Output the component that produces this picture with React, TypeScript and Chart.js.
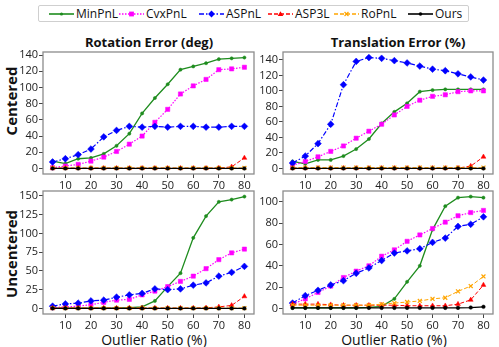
import React, { useEffect, useRef } from "react";
import { Chart, registerables } from "chart.js";

Chart.register(...registerables);

// ---------------- data ----------------
const outlierRatios = [5, 10, 15, 20, 25, 30, 35, 40, 45, 50, 55, 60, 65, 70, 75, 80];
const xTickValues = [10, 20, 30, 40, 50, 60, 70, 80];

const methodNames = ["MinPnL", "CvxPnL", "ASPnL", "ASP3L", "RoPnL", "Ours"];

// Rotation error (deg), centered
const rotC_MinPnL = [9, 6, 12, 13, 18, 28, 43, 68, 87, 104, 122, 126, 130, 135, 136, 137];
const rotC_CvxPnL = [1, 3, 5, 9, 14, 21, 30, 40, 57, 73, 92, 102, 110, 122, 123, 125];
const rotC_ASPnL = [8, 12, 17, 24, 39, 47, 52, 51, 52, 51, 52, 52, 51, 51, 52, 52];
const rotC_ASP3L = [0.3, 0.3, 0.3, 0.3, 0.3, 0.3, 0.3, 0.3, 0.3, 0.3, 0.3, 0.3, 0.3, 0.5, 2, 13];
const rotC_RoPnL = [0.6, 0.6, 0.6, 0.6, 0.6, 0.6, 0.6, 0.6, 0.6, 0.6, 0.6, 0.6, 0.6, 0.6, 0.6, 0.6];
const rotC_Ours = [0, 0, 0, 0, 0, 0, 0, 0, 0, 0, 0, 0, 0, 0, 0, 0];

// Translation error (%), centered
const trC_MinPnL = [9, 6, 11, 11, 16, 25, 38, 58, 73, 84, 99, 101, 102, 102, 102, 102];
const trC_CvxPnL = [4, 9, 15, 22, 29, 39, 48, 57, 69, 80, 88, 93, 95, 99, 100, 100];
const trC_ASPnL = [7, 16, 32, 57, 108, 138, 143, 142, 139, 136, 132, 128, 126, 122, 118, 114];
const trC_ASP3L = [0.3, 0.3, 0.3, 0.3, 0.3, 0.3, 0.3, 0.3, 0.3, 0.3, 0.3, 0.3, 0.3, 0.5, 3, 15];
const trC_RoPnL = [1, 1, 1, 1, 1, 1, 1, 1, 1, 1, 1, 1, 1, 1, 1, 1];
const trC_Ours = [0, 0, 0, 0, 0, 0, 0, 0, 0, 0, 0, 0, 0, 0, 0, 0];

// Rotation error (deg), uncentered
const rotU_MinPnL = [0.5, 0.5, 0.5, 0.5, 0.5, 0.5, 1, 2, 10, 29, 47, 94, 123, 142, 145, 149];
const rotU_CvxPnL = [1, 2, 3, 5, 8, 11, 12, 18, 23, 29, 36, 43, 53, 65, 74, 79];
const rotU_ASPnL = [3, 6, 7, 10, 11, 15, 18, 20, 26, 25, 26, 31, 34, 43, 48, 56];
const rotU_ASP3L = [0.5, 0.5, 0.5, 0.5, 0.5, 0.5, 0.5, 0.5, 0.5, 0.5, 0.5, 0.5, 0.8, 2, 4, 16];
const rotU_RoPnL = [0.5, 0.5, 0.5, 0.5, 0.5, 0.5, 0.5, 0.5, 0.5, 0.5, 0.5, 0.5, 0.5, 0.5, 0.5, 0.5];
const rotU_Ours = [0, 0, 0, 0, 0, 0, 0, 0, 0, 0, 0, 0, 0, 0, 0, 0];

// Translation error (%), uncentered
const trU_MinPnL = [0.5, 0.5, 0.5, 0.5, 0.5, 0.5, 1, 2, 9, 25, 40, 74, 96, 104, 105, 104];
const trU_CvxPnL = [4, 9, 15, 21, 29, 35, 40, 49, 55, 63, 69, 75, 81, 87, 90, 92];
const trU_ASPnL = [5, 12, 17, 22, 26, 33, 38, 45, 52, 54, 56, 62, 66, 77, 79, 86];
const trU_ASP3L = [4, 4, 4, 3.5, 3, 3, 3, 3, 3, 2.5, 2.5, 2.5, 2.5, 4, 8, 22];
const trU_RoPnL = [3, 3, 3, 3, 3, 3, 3, 4, 5, 6, 7, 9, 10, 16, 21, 30];
const trU_Ours = [0.5, 0.5, 0.5, 0.5, 0.5, 0.5, 0.5, 0.5, 0.5, 0.5, 0.5, 0.5, 0.5, 0.5, 0.8, 1.5];

const yTicksRotC = [0, 20, 40, 60, 80, 100, 120, 140];
const yTicksTrC = [0, 20, 40, 60, 80, 100, 120, 140];
const yTicksRotU = [0, 25, 50, 75, 100, 125, 150];
const yTicksTrU = [0, 20, 40, 60, 80, 100];

// ---------------- styles ----------------
const FONT = "'Open Sans', 'Noto Sans', sans-serif";

type Style = {
  color: string;
  dash: number[];
  point: string;
  radius: number;
  width: number;
};

const methodStyles: Style[] = [
  { color: "#1e8c1e", dash: [], point: "circle", radius: 1.6, width: 1.3 },
  { color: "#ff00ff", dash: [1.5, 1.5], point: "rect", radius: 3, width: 1.2 },
  { color: "#0000ff", dash: [5, 2, 1.5, 2], point: "rectRot", radius: 3.4, width: 1.2 },
  { color: "#ff0000", dash: [4, 2], point: "triangle", radius: 2.8, width: 1 },
  { color: "#ffa500", dash: [4, 2], point: "crossRot", radius: 2.8, width: 1 },
  { color: "#000000", dash: [], point: "circle", radius: 1.8, width: 1.3 },
];

const Y_AXIS_W = 40;
const X_AXIS_H = 22;
const PAD_T = 8;
const PAD_R = 6;

const framePlugin = {
  id: "frame",
  afterDatasetsDraw(chart: any) {
    const { ctx, chartArea } = chart;
    ctx.save();
    ctx.strokeStyle = "#8c8c8c";
    ctx.lineWidth = 1.3;
    ctx.strokeRect(chartArea.left, chartArea.top, chartArea.right - chartArea.left, chartArea.bottom - chartArea.top);
    ctx.restore();
  },
};

type PanelProps = {
  left: number;
  top: number;
  width: number;
  height: number;
  series: number[][];
  yTicks: number[];
};

function Panel({ left, top, width, height, series, yTicks }: PanelProps) {
  const ref = useRef<HTMLCanvasElement | null>(null);
  const cw = width + Y_AXIS_W + PAD_R;
  const ch = height + PAD_T + X_AXIS_H;

  useEffect(() => {
    if (!ref.current) return;
    let dMax = 0;
    let dMin = 0;
    series.forEach((s) => s.forEach((v) => { dMax = Math.max(dMax, v); dMin = Math.min(dMin, v); }));
    const span = dMax - dMin;
    const yMin = dMin - 0.05 * span;
    const yMax = dMax + 0.05 * span;
    const xSpan = outlierRatios[outlierRatios.length - 1] - outlierRatios[0];
    const xMin = outlierRatios[0] - 0.05 * xSpan;
    const xMax = outlierRatios[outlierRatios.length - 1] + 0.05 * xSpan;

    const datasets = series.map((vals, i) => {
      const st = methodStyles[i];
      return {
        label: methodNames[i],
        data: vals.map((v, j) => ({ x: outlierRatios[j], y: v })),
        borderColor: st.color,
        backgroundColor: st.color,
        borderDash: st.dash,
        borderWidth: st.width,
        pointStyle: st.point,
        pointRadius: st.radius,
        pointBorderWidth: st.point === "crossRot" ? 1.2 : 0.5,
        pointBorderColor: st.color,
        pointBackgroundColor: st.color,
        tension: 0,
        fill: false,
        order: series.length - i,
      };
    });

    const tickFont = { family: FONT, size: 11 };
    const chart = new Chart(ref.current, {
      type: "line",
      data: { datasets: datasets as any },
      plugins: [framePlugin],
      options: {
        animation: false,
        responsive: false,
        maintainAspectRatio: false,
        layout: { padding: { top: PAD_T, right: PAD_R, left: 0, bottom: 0 } },
        plugins: { legend: { display: false }, tooltip: { enabled: false }, title: { display: false } },
        scales: {
          x: {
            type: "linear",
            min: xMin,
            max: xMax,
            afterBuildTicks: (s: any) => { s.ticks = xTickValues.map((v) => ({ value: v })); },
            afterFit: (s: any) => { s.height = X_AXIS_H; },
            grid: { drawOnChartArea: false, drawTicks: true, tickLength: 4, color: "#444", lineWidth: 1 },
            border: { display: false },
            ticks: { font: tickFont, color: "#222", padding: 1, maxRotation: 0, autoSkip: false },
          },
          y: {
            type: "linear",
            min: yMin,
            max: yMax,
            afterBuildTicks: (s: any) => { s.ticks = yTicks.map((v) => ({ value: v })); },
            afterFit: (s: any) => { s.width = Y_AXIS_W; },
            grid: { drawOnChartArea: false, drawTicks: true, tickLength: 4, color: "#444", lineWidth: 1 },
            border: { display: false },
            ticks: { font: tickFont, color: "#222", padding: 1, autoSkip: false },
          },
        },
      } as any,
    });
    return () => chart.destroy();
  }, []);

  return (
    <canvas
      ref={ref}
      width={cw}
      height={ch}
      style={{ position: "absolute", left: left - Y_AXIS_W, top: top - PAD_T, width: cw, height: ch }}
    />
  );
}

function LegendSample({ st }: { st: Style }) {
  const w = 25;
  const h = 10;
  const cy = h / 2;
  const cx = w / 2;
  let marker: React.ReactNode = null;
  const r = st.radius;
  if (st.point === "circle") marker = <circle cx={cx} cy={cy} r={r} fill={st.color} />;
  else if (st.point === "rect") marker = <rect x={cx - r * 0.8} y={cy - r * 0.8} width={r * 1.6} height={r * 1.6} fill={st.color} />;
  else if (st.point === "rectRot") marker = <polygon points={`${cx},${cy - r} ${cx + r},${cy} ${cx},${cy + r} ${cx - r},${cy}`} fill={st.color} />;
  else if (st.point === "triangle") marker = <polygon points={`${cx},${cy - r} ${cx + r},${cy + r * 0.7} ${cx - r},${cy + r * 0.7}`} fill={st.color} />;
  else if (st.point === "crossRot")
    marker = (
      <g stroke={st.color} strokeWidth={1.2}>
        <line x1={cx - r * 0.7} y1={cy - r * 0.7} x2={cx + r * 0.7} y2={cy + r * 0.7} />
        <line x1={cx - r * 0.7} y1={cy + r * 0.7} x2={cx + r * 0.7} y2={cy - r * 0.7} />
      </g>
    );
  return (
    <svg width={w} height={h} style={{ display: "block" }}>
      <line x1={0} y1={cy} x2={w} y2={cy} stroke={st.color} strokeWidth={st.width + 0.3} strokeDasharray={st.dash.length ? st.dash.join(" ") : undefined} />
      {marker}
    </svg>
  );
}

const legendSampleX = [49, 119, 199, 268, 334, 408];

export default function App() {
  useEffect(() => {
    document.body.style.margin = "0";
  }, []);

  const textBase: React.CSSProperties = { position: "absolute", fontFamily: FONT, color: "#111", whiteSpace: "nowrap" };

  return (
    <div style={{ position: "relative", width: 499, height: 347, background: "#fff", overflow: "hidden" }}>
      {/* legend */}
      <div style={{ position: "absolute", left: 38, top: 5, width: 431, height: 17, border: "1px solid #cfcfcf", borderRadius: 2, boxSizing: "border-box" }} />
      {methodNames.map((name, i) => (
        <div key={name} style={{ position: "absolute", left: legendSampleX[i], top: 6, height: 15, display: "flex", alignItems: "center" }}>
          <LegendSample st={methodStyles[i]} />
          <span style={{ fontFamily: FONT, fontSize: 12, color: "#111", marginLeft: 2, lineHeight: "15px" }}>{name}</span>
        </div>
      ))}

      {/* titles */}
      <div style={{ ...textBase, left: 149, top: 42, transform: "translate(-50%,-50%)", fontSize: 13, fontWeight: 700 }}>Rotation Error (deg)</div>
      <div style={{ ...textBase, left: 398, top: 42, transform: "translate(-50%,-50%)", fontSize: 13, fontWeight: 700 }}>Translation Error (%)</div>

      {/* row labels */}
      <div style={{ ...textBase, left: 11, top: 101, transform: "translate(-50%,-50%) rotate(-90deg)", fontSize: 15, fontWeight: 700 }}>Centered</div>
      <div style={{ ...textBase, left: 11, top: 254, transform: "translate(-50%,-50%) rotate(-90deg)", fontSize: 15, fontWeight: 700 }}>Uncentered</div>

      {/* x titles */}
      <div style={{ ...textBase, left: 154, top: 339, transform: "translate(-50%,-50%)", fontSize: 14 }}>Outlier Ratio (%)</div>
      <div style={{ ...textBase, left: 394, top: 339, transform: "translate(-50%,-50%)", fontSize: 14 }}>Outlier Ratio (%)</div>

      <Panel left={43} top={52} width={211} height={122} yTicks={yTicksRotC}
        series={[rotC_MinPnL, rotC_CvxPnL, rotC_ASPnL, rotC_ASP3L, rotC_RoPnL, rotC_Ours]} />
      <Panel left={283} top={52} width={210} height={122} yTicks={yTicksTrC}
        series={[trC_MinPnL, trC_CvxPnL, trC_ASPnL, trC_ASP3L, trC_RoPnL, trC_Ours]} />
      <Panel left={43} top={191} width={211} height={123} yTicks={yTicksRotU}
        series={[rotU_MinPnL, rotU_CvxPnL, rotU_ASPnL, rotU_ASP3L, rotU_RoPnL, rotU_Ours]} />
      <Panel left={283} top={191} width={210} height={123} yTicks={yTicksTrU}
        series={[trU_MinPnL, trU_CvxPnL, trU_ASPnL, trU_ASP3L, trU_RoPnL, trU_Ours]} />
    </div>
  );
}
